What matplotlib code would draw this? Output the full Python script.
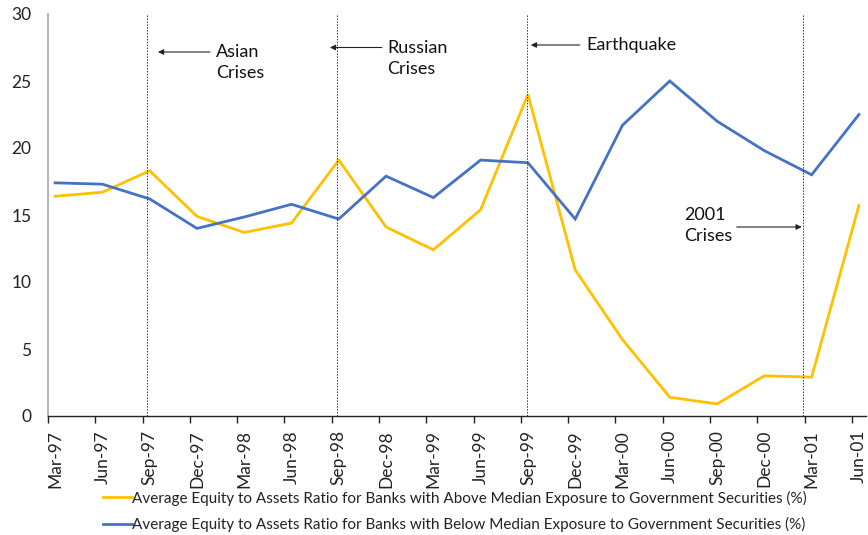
import matplotlib
matplotlib.use("Agg")
import matplotlib.pyplot as plt
import numpy as np

plt.rcParams['font.family'] = ['Lato', 'DejaVu Sans']

quarters = ["Mar-97", "Jun-97", "Sep-97", "Dec-97", "Mar-98", "Jun-98", "Sep-98", "Dec-98",
            "Mar-99", "Jun-99", "Sep-99", "Dec-99", "Mar-00", "Jun-00", "Sep-00", "Dec-00",
            "Mar-01", "Jun-01"]
above_median = [16.4, 16.7, 18.3, 14.9, 13.7, 14.4, 19.1, 14.1, 12.4, 15.4, 24.0, 10.9,
                5.7, 1.4, 0.9, 3.0, 2.9, 15.7]
below_median = [17.4, 17.3, 16.2, 14.0, 14.85, 15.8, 14.7, 17.9, 16.3, 19.1, 18.9, 14.7,
                21.7, 25.0, 22.0, 19.8, 18.0, 22.5]
label_above = "Average Equity to Assets Ratio for Banks with Above Median Exposure to Government Securities (%)"
label_below = "Average Equity to Assets Ratio for Banks with Below Median Exposure to Government Securities (%)"
events = ["Asian\nCrises", "Russian\nCrises", "Earthquake", "2001\nCrises"]
event_x = [2.09, 6.11, 10.12, 15.97]

W, H = 868, 535
fig = plt.figure(figsize=(W / 100, H / 100), dpi=100)
ax = fig.add_axes([48 / W, (H - 416) / H, 818 / W, 402 / H])

idx = np.arange(len(quarters))
xpos = idx + 0.15
ax.plot(xpos, above_median, color="#FFC000", lw=2.0, label=label_above, solid_joinstyle='miter')
ax.plot(xpos, below_median, color="#4472C4", lw=2.0, label=label_below, solid_joinstyle='miter')

for ex in event_x:
    ax.axvline(ex, color="#333333", lw=0.7, linestyle=(0, (1.5, 1.5)))

ax.set_xlim(0, 17.3)
ax.set_ylim(0, 30)
ax.set_yticks(np.arange(0, 31, 5))
ax.tick_params(axis='y', length=0, labelsize=12.5, pad=12, colors='#222222')
ax.set_xticks(idx)
ax.set_xticklabels([])
ax.set_xticks(xpos, minor=True)
ax.set_xticklabels(quarters, minor=True, rotation=90, fontsize=12.5, color='#222222')
ax.tick_params(axis='x', which='major', length=5, width=1, color='#222222', direction='out')
ax.tick_params(axis='x', which='minor', length=0, pad=10)

for s in ['top', 'right']:
    ax.spines[s].set_visible(False)
ax.spines['left'].set_color('#A6A6A6')
ax.spines['left'].set_linewidth(1.2)
ax.spines['bottom'].set_color('#222222')
ax.spines['bottom'].set_linewidth(1.0)

def px2d(px, py):
    return ((px - 48) / 47.3, (416 - py) / 13.4)

arrowprops = dict(arrowstyle='-|>', color='#222222', lw=0.8, mutation_scale=8, shrinkA=0, shrinkB=0)
txt_kw = dict(fontsize=13, color='#111111', ha='left', va='top', linespacing=1.4)

# Asian
ax.annotate("", xy=px2d(158, 52), xytext=px2d(210, 52), arrowprops=arrowprops)
ax.text(*px2d(216, 44), events[0], **txt_kw)
# Russian
ax.annotate("", xy=px2d(330, 47.5), xytext=px2d(382, 47.5), arrowprops=arrowprops)
ax.text(*px2d(387, 40), events[1], **txt_kw)
# Earthquake
ax.annotate("", xy=px2d(531, 45), xytext=px2d(580, 45), arrowprops=arrowprops)
ax.text(*px2d(587, 37), events[2], **txt_kw)
# 2001
ax.annotate("", xy=px2d(802, 227), xytext=px2d(737, 227), arrowprops=arrowprops)
ax.text(*px2d(684, 207), events[3], **txt_kw)

fig.legend(loc='upper left', bbox_to_anchor=(95 / W, 1 - 483 / H), frameon=False,
           fontsize=11, handlelength=1.9, handletextpad=0.05, labelspacing=0.75,
           borderpad=0, labelcolor='#222222')

fig.savefig("out.png", dpi=100)
